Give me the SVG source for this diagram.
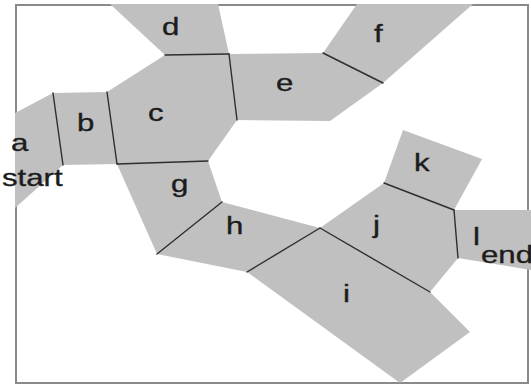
<svg xmlns="http://www.w3.org/2000/svg" width="531" height="387" viewBox="0 0 531 387">
  <style>
    .frame { fill: none; stroke: #8a8a8a; stroke-width: 2; }
    .cell { fill: #c0c0c0; stroke: none; }
    .wall { fill: none; stroke: #2e2e2e; stroke-width: 1.4; stroke-linecap: round; }
    .lbl { font-family: "Liberation Sans", Arial, sans-serif; font-size: 24px; fill: #1c1c1c; stroke: #1c1c1c; stroke-width: 0.35; }
  </style>
  <rect width="531" height="387" fill="#ffffff"/>

  <!-- outer frame -->
  <rect class="frame" x="16" y="5" width="512" height="378"/>

  <!-- regions -->
  <g id="a">
    <polygon class="cell" points="15,113 53,93 63,165 15,208"/>
    <text class="lbl" transform="translate(11,151) scale(1.3,1)">a</text>
    <text class="lbl" transform="translate(2,186) scale(1.3,1)">start</text>
  </g>
  <g id="b">
    <polygon class="cell" points="53,93 107,92 117,164 63,165"/>
    <text class="lbl" transform="translate(77,131) scale(1.3,1)">b</text>
  </g>
  <g id="c">
    <polygon class="cell" points="107,92 165,55 229,54 237,120 208,161 117,164"/>
    <text class="lbl" transform="translate(148,121) scale(1.3,1)">c</text>
  </g>
  <g id="d">
    <polygon class="cell" points="110,4 218,4 229,54 165,55"/>
    <text class="lbl" transform="translate(162,35) scale(1.3,1)">d</text>
  </g>
  <g id="e">
    <polygon class="cell" points="229,54 323,53 383,83 330,121 237,120"/>
    <text class="lbl" transform="translate(276,91) scale(1.3,1)">e</text>
  </g>
  <g id="f">
    <polygon class="cell" points="323,53 357,4 473,4 383,83"/>
    <text class="lbl" transform="translate(374,42) scale(1.3,1)">f</text>
  </g>
  <g id="g">
    <polygon class="cell" points="117,164 208,161 222,202 157,254"/>
    <text class="lbl" transform="translate(171,192) scale(1.3,1)">g</text>
  </g>
  <g id="h">
    <polygon class="cell" points="222,202 320,228 247,272 157,254"/>
    <text class="lbl" transform="translate(226,234) scale(1.3,1)">h</text>
  </g>
  <g id="i">
    <polygon class="cell" points="320,228 430,292 470,332 400,383 247,272"/>
    <text class="lbl" transform="translate(343,302) scale(1.3,1)">i</text>
  </g>
  <g id="j">
    <polygon class="cell" points="320,228 384,183 454,210 458,258 430,292"/>
    <text class="lbl" transform="translate(373,233) scale(1.3,1)">j</text>
  </g>
  <g id="k">
    <polygon class="cell" points="384,183 403,130 482,159 454,210"/>
    <text class="lbl" transform="translate(414,171) scale(1.3,1)">k</text>
  </g>
  <g id="l">
    <polygon class="cell" points="454,210 531,210 531,270 458,258"/>
    <text class="lbl" transform="translate(473,245) scale(1.3,1)">l</text>
    <text class="lbl" transform="translate(481,263) scale(1.3,1)">end</text>
  </g>

  <!-- shared walls between neighbouring regions -->
  <g id="walls">
    <line class="wall" x1="53" y1="93" x2="63" y2="165"/>
    <line class="wall" x1="107" y1="92" x2="117" y2="164"/>
    <line class="wall" x1="165" y1="55" x2="229" y2="54"/>
    <line class="wall" x1="229" y1="54" x2="237" y2="120"/>
    <line class="wall" x1="117" y1="164" x2="208" y2="161"/>
    <line class="wall" x1="323" y1="53" x2="383" y2="83"/>
    <line class="wall" x1="222" y1="202" x2="157" y2="254"/>
    <line class="wall" x1="320" y1="228" x2="247" y2="272"/>
    <line class="wall" x1="320" y1="228" x2="430" y2="292"/>
    <line class="wall" x1="384" y1="183" x2="454" y2="210"/>
    <line class="wall" x1="454" y1="210" x2="458" y2="258"/>
  </g>
</svg>
